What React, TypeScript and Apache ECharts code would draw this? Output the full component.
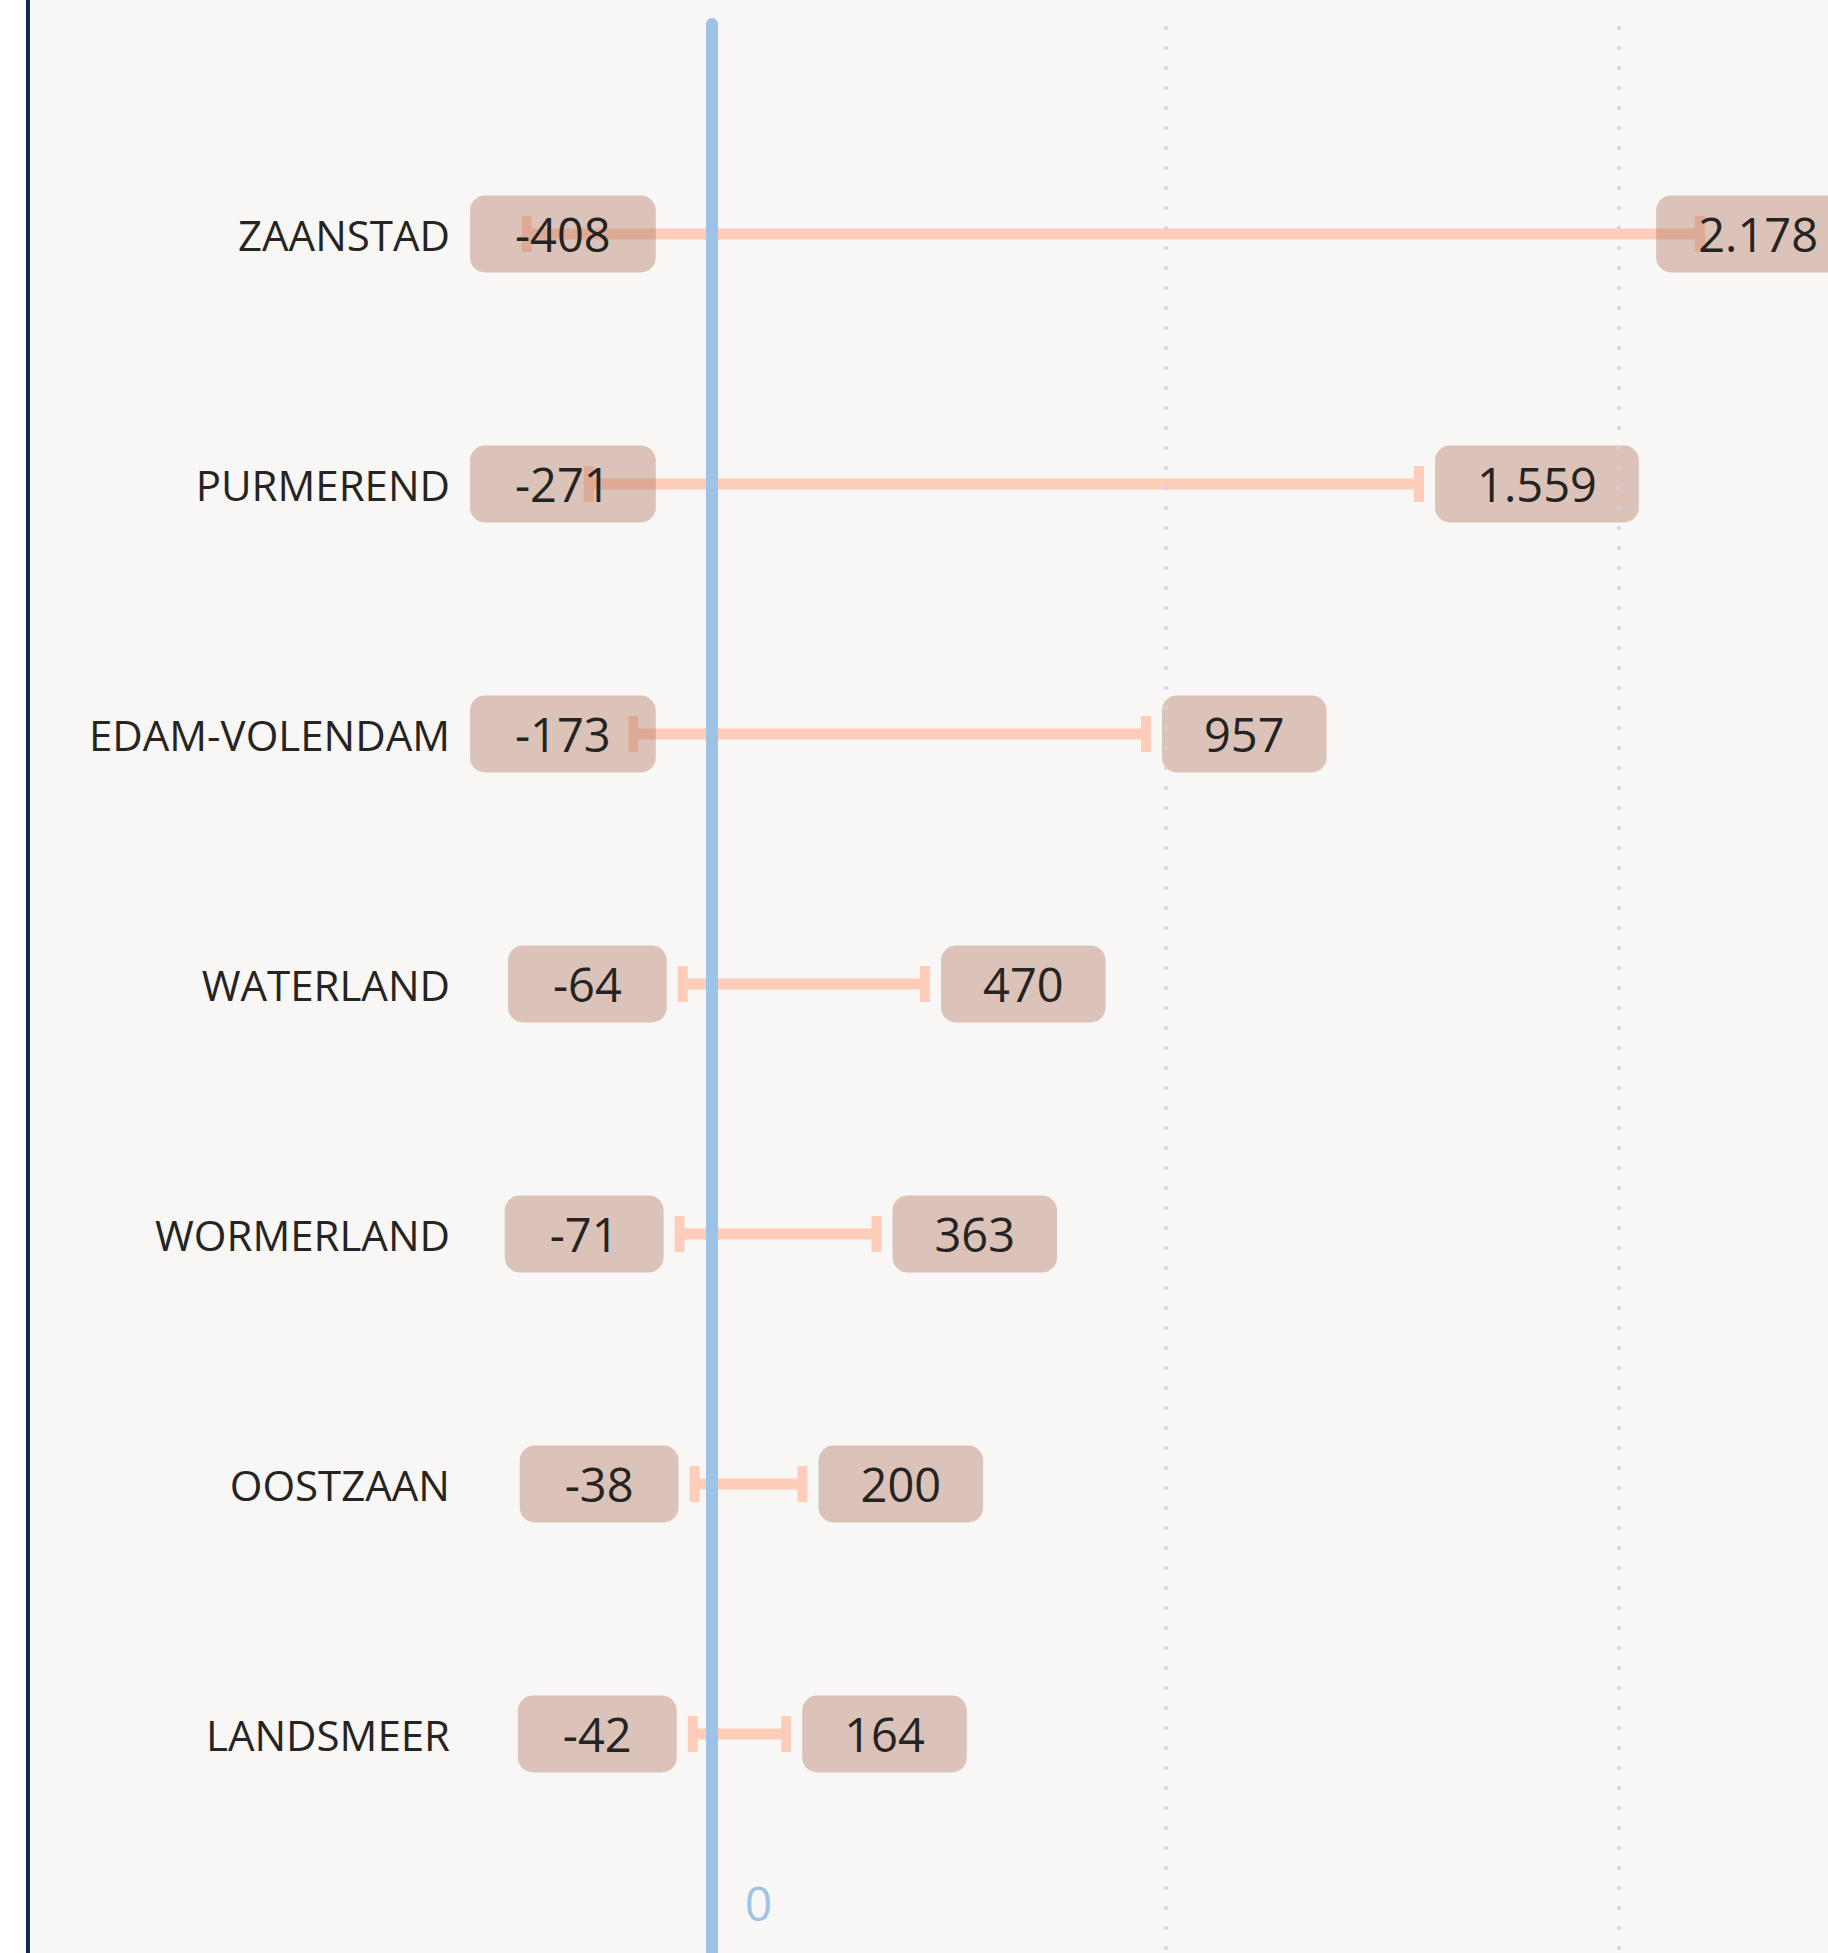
import React, { useEffect, useRef } from "react";
import * as echarts from "echarts";

const CATEGORIES = ["ZAANSTAD", "PURMEREND", "EDAM-VOLENDAM", "WATERLAND", "WORMERLAND", "OOSTZAAN", "LANDSMEER"];
const LOW_VALUES = [-408, -271, -173, -64, -71, -38, -42];
const HIGH_VALUES = [2178, 1559, 957, 470, 363, 200, 164];
const ZERO_VALUE = 0;
const GRID_VALUES = [1000, 2000];
const X_MIN = -533;
const X_MAX = 2531;

const FONT = '"Segoe UI", "Open Sans", sans-serif';
const MEASURE_FONT = '"Open Sans", sans-serif';
const BG = "#f8f7f6";
const PEACH = "#fecdb9";
const BOX = "rgba(175,117,96,0.4)";
const TEXT = "#252423";
const BLUE = "#9dc3e6";
const DOT = "#d4d1e6";

const VAL_FS = 47;
const PAD_POS = 42;
const PAD_NEG = 45;
const GAP = 16;

function fmt(v: number): string {
  const s = String(Math.abs(v)).replace(/\B(?=(\d{3})+(?!\d))/g, ".");
  return (v < 0 ? "-" : "") + s;
}

let measureCtx: CanvasRenderingContext2D | null = null;
function textWidth(t: string): number {
  if (!measureCtx) {
    measureCtx = document.createElement("canvas").getContext("2d");
  }
  if (!measureCtx) return t.length * VAL_FS * 0.55;
  measureCtx.font = `${VAL_FS}px ${MEASURE_FONT}`;
  return measureCtx.measureText(t).width;
}

export default function App() {
  const ref = useRef<HTMLDivElement>(null);

  useEffect(() => {
    document.body.style.margin = "0";
    document.body.style.overflow = "hidden";
    if (!ref.current) return;
    const chart = echarts.init(ref.current, undefined, { renderer: "svg" });

    const data = CATEGORIES.map((c, i) => [i, LOW_VALUES[i], HIGH_VALUES[i]]);

    const labelStyle = (text: string, x: number, y: number, pad: number) => ({
      type: "text",
      x,
      y,
      style: {
        text,
        x: 0,
        y: 0,
        align: "left",
        verticalAlign: "middle",
        fontSize: VAL_FS,
        fontFamily: FONT,
        lineHeight: VAL_FS,
        fill: TEXT,
        backgroundColor: BOX,
        padding: [22, pad, 8, pad],
        borderRadius: 15,
      },
    });

    const renderItem = (params: any, api: any) => {
      const cat = api.value(0);
      const low = api.value(1);
      const high = api.value(2);
      const pL = api.coord([low, cat]);
      const pH = api.coord([high, cat]);
      const y = pL[1];
      const cs = params.coordSys;
      const lowText = fmt(low);
      const highText = fmt(high);
      const wL = textWidth(lowText) + 2 * PAD_NEG;
      const wH = textWidth(highText) + 2 * PAD_POS;
      const lowLeft = Math.max(cs.x, pL[0] - GAP - wL);
      const highLeft = Math.min(pH[0] + GAP, cs.x + cs.width - wH);
      return {
        type: "group",
        children: [
          {
            type: "line",
            shape: { x1: pL[0], y1: y, x2: pH[0], y2: y },
            style: { stroke: PEACH, lineWidth: 11 },
          },
          {
            type: "rect",
            shape: { x: pL[0] - 5, y: y - 18, width: 10, height: 36 },
            style: { fill: PEACH },
          },
          {
            type: "rect",
            shape: { x: pH[0] - 5, y: y - 18, width: 10, height: 36 },
            style: { fill: PEACH },
          },
          labelStyle(lowText, lowLeft, y, PAD_NEG),
          labelStyle(highText, highLeft, y, PAD_POS),
        ],
      };
    };

    const dotted = {
      color: DOT,
      width: 4,
      type: [0.1, 19.9],
      cap: "round",
      dashOffset: -4,
    };

    const option: any = {
      animation: false,
      backgroundColor: BG,
      graphic: [
        { type: "rect", left: 0, top: 0, shape: { x: 0, y: 0, width: 26, height: 1953 }, style: { fill: "#ffffff" }, z: 100 },
        { type: "rect", left: 26, top: 0, shape: { x: 0, y: 0, width: 4, height: 1953 }, style: { fill: "#0b2c5a" }, z: 100 },
      ],
      grid: [
        { left: 470, width: 1390, top: 109, height: 1750 },
        { left: 470, width: 1390, top: 24, bottom: 0 },
      ],
      xAxis: [
        {
          type: "value",
          gridIndex: 0,
          min: X_MIN,
          max: X_MAX,
          splitLine: { show: false },
          axisLine: { show: false },
          axisTick: { show: false },
          axisLabel: {
            customValues: [ZERO_VALUE],
            color: BLUE,
            fontSize: 48,
            fontFamily: FONT,
            margin: 19,
            align: "left",
            padding: [0, 0, 0, 33],
            formatter: (v: number) => fmt(v),
          },
        },
        {
          type: "value",
          gridIndex: 1,
          min: X_MIN,
          max: X_MAX,
          show: false,
          splitLine: { show: false },
        },
      ],
      yAxis: [
        {
          type: "category",
          gridIndex: 0,
          data: CATEGORIES,
          inverse: true,
          axisLine: { show: false },
          axisTick: { show: false },
          splitLine: { show: false },
          axisLabel: {
            color: TEXT,
            fontSize: 42,
            fontFamily: FONT,
            margin: 20,
          },
        },
        {
          type: "value",
          gridIndex: 1,
          min: 0,
          max: 1,
          inverse: true,
          show: false,
          splitLine: { show: false },
        },
      ],
      series: [
        {
          type: "custom",
          xAxisIndex: 0,
          yAxisIndex: 0,
          renderItem,
          encode: { x: [1, 2], y: 0 },
          data,
          z: 2,
          silent: true,
        },
        {
          type: "line",
          xAxisIndex: 1,
          yAxisIndex: 1,
          data: [[ZERO_VALUE, 0.5]],
          showSymbol: false,
          symbol: "none",
          lineStyle: { opacity: 0 },
          z: 5,
          silent: true,
          markLine: {
            silent: true,
            symbol: ["none", "none"],
            label: { show: false },
            data: [
              { xAxis: ZERO_VALUE, lineStyle: { color: BLUE, width: 12, type: "solid", cap: "round" } },
              ...GRID_VALUES.map((v) => ({ xAxis: v, lineStyle: dotted })),
            ],
          },
        },
      ],
    };

    chart.setOption(option);
    return () => chart.dispose();
  }, []);

  return <div ref={ref} style={{ width: 1880, height: 1953 }} />;
}
